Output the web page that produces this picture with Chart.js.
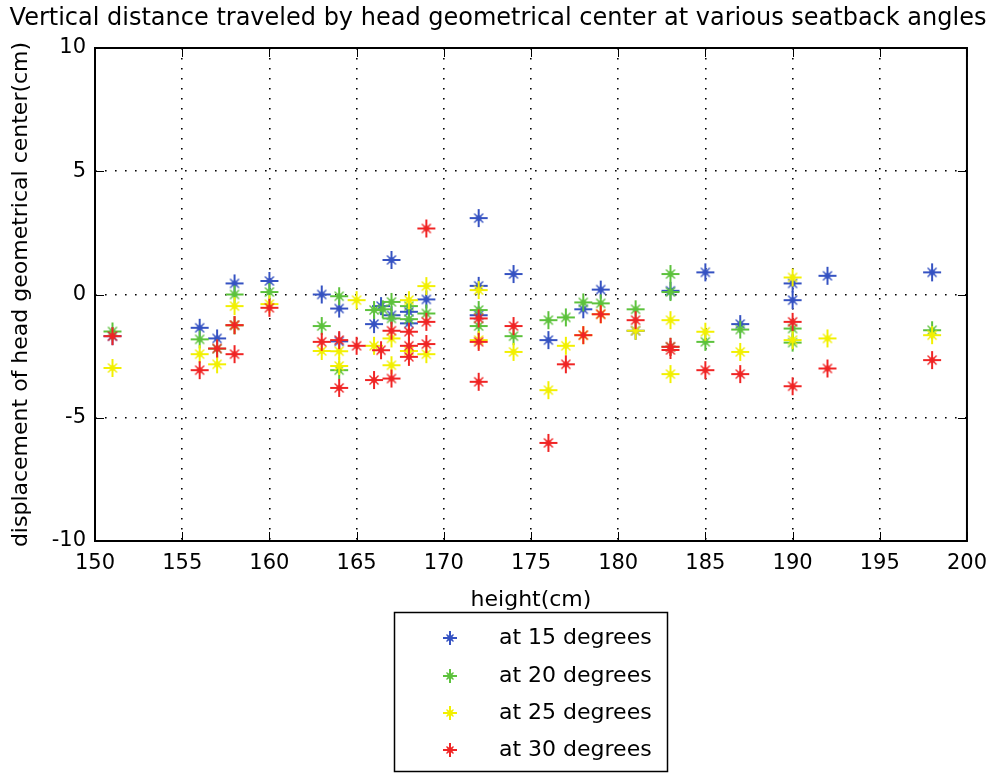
<!DOCTYPE html>
<html>
<head>
<meta charset="utf-8">
<script src="https://cdn.jsdelivr.net/npm/chart.js@4.4.1/dist/chart.umd.min.js"></script>
<style>
  html, body { margin: 0; padding: 0; background: #fff; }
  #wrap { width: 997px; height: 773px; position: relative; }
</style>
</head>
<body>
<div id="wrap"><canvas id="chart" width="997" height="773"></canvas></div>
<script>
// datos
const xTicks = [150, 155, 160, 165, 170, 175, 180, 185, 190, 195, 200];
const yTicks = [-10, -5, 0, 5, 10];

const seriesLabels = ['at 15 degrees', 'at 20 degrees', 'at 25 degrees', 'at 30 degrees'];
const seriesColors = ['#3552c2', '#5cc23c', '#f2f000', '#f02424'];

const heights15 = [151, 156, 157, 158, 158, 160, 163, 164, 164, 166, 166.4, 167, 167, 168, 168, 169, 172, 172, 172, 174, 176, 178, 179, 181, 183, 185, 187, 190, 190, 192, 198];
const disp15    = [-1.69, -1.35, -1.78, 0.45, -1.25, 0.55, 0.0, -0.57, -1.9, -1.2, -0.47, 1.4, -0.84, -0.7, -1.17, -0.2, 3.1, 0.35, -0.84, 0.83, -1.85, -0.6, 0.2, -1.47, 0.15, 0.9, -1.2, 0.45, -0.23, 0.76, 0.9];

const heights20 = [151, 156, 157, 158, 160, 163, 164, 164, 166, 166.5, 167, 167, 168, 168, 169, 172, 172, 174, 176, 177, 178, 179, 181, 183, 183, 183, 185, 187, 190, 190, 198];
const disp20    = [-1.5, -1.82, -2.2, 0.0, 0.1, -1.28, -0.07, -3.07, -0.63, -0.6, -0.3, -0.97, -0.47, -1.0, -0.77, -0.63, -1.28, -1.69, -1.04, -0.93, -0.32, -0.36, -0.6, 0.83, 0.1, -2.12, -1.92, -1.42, -1.38, -1.95, -1.45];

const heights25 = [151, 156, 157, 158, 158, 160, 163, 164, 164, 165, 166, 167, 167, 168, 168, 169, 169, 172, 172, 174, 176, 177, 178, 179, 181, 183, 183, 185, 187, 190, 190, 192, 198];
const disp25    = [-2.98, -2.42, -2.83, -0.47, -1.25, -0.39, -2.29, -2.3, -2.9, -0.23, -2.08, -1.78, -2.87, -0.23, -2.29, 0.34, -2.42, 0.18, -1.85, -2.33, -3.88, -2.08, -1.65, -0.8, -1.47, -1.04, -3.23, -1.51, -2.33, 0.69, -1.85, -1.78, -1.65];

const heights30 = [151, 156, 157, 158, 158, 160, 163, 164, 164, 165, 166, 166.4, 167, 167, 168, 168, 168, 169, 169, 169, 172, 172, 172, 174, 176, 177, 178, 179, 181, 183, 183, 185, 187, 190, 190, 192, 198];
const disp30    = [-1.69, -3.07, -2.19, -1.24, -2.42, -0.54, -1.92, -1.85, -3.79, -2.08, -3.47, -2.26, -1.47, -3.41, -1.51, -2.08, -2.53, 2.68, -1.11, -2.01, -0.97, -1.92, -3.54, -1.28, -6.02, -2.83, -1.65, -0.8, -1.04, -2.12, -2.25, -3.07, -3.23, -1.11, -3.72, -3.0, -2.66];

const allHeights = [heights15, heights20, heights25, heights30];
const allDisp = [disp15, disp20, disp25, disp30];

const FONT = "'DejaVu Sans', sans-serif";

// marcador tipo asterisco de MATLAB
function starMarker(color, r) {
    const s = Math.ceil(r * 2 + 4);
    const c = document.createElement('canvas');
    c.width = s; c.height = s;
    const g = c.getContext('2d');
    const m = s / 2;
    g.strokeStyle = color;
    g.lineWidth = 2;
    g.beginPath();
    g.moveTo(m - r, m); g.lineTo(m + r, m);
    g.moveTo(m, m - r); g.lineTo(m, m + r);
    g.stroke();
    const d = r * 0.5;
    g.lineWidth = 1.4;
    g.beginPath();
    g.moveTo(m - d, m - d); g.lineTo(m + d, m + d);
    g.moveTo(m - d, m + d); g.lineTo(m + d, m - d);
    g.stroke();
    g.fillStyle = color;
    g.fillRect(m - 2.5, m - 2.5, 5, 5);
    return c;
}

const markers = seriesColors.map(col => starMarker(col, 9));
const legendMarkers = seriesColors.map(col => starMarker(col, 7));

// la ultima serie queda encima, como en MATLAB
const datasets = seriesLabels.map((lab, i) => ({
    label: lab,
    data: allHeights[i].map((h, k) => ({ x: h, y: allDisp[i][k] })),
    pointStyle: markers[i],
    backgroundColor: seriesColors[i],
    borderColor: seriesColors[i],
    order: seriesLabels.length - 1 - i,
    showLine: false
}));

// caja, marcas interiores, titulo y leyenda
const matlabFrame = {
    id: 'matlabFrame',
    afterDraw(chart) {
        const { ctx, chartArea: a, scales } = chart;
        ctx.save();
        ctx.strokeStyle = '#000';
        ctx.lineWidth = 2;
        ctx.strokeRect(a.left, a.top, a.right - a.left, a.bottom - a.top);
        ctx.lineWidth = 1;
        ctx.beginPath();
        xTicks.forEach(v => {
            const px = Math.round(scales.x.getPixelForValue(v)) + 0.5;
            ctx.moveTo(px, a.bottom); ctx.lineTo(px, a.bottom - 9);
            ctx.moveTo(px, a.top); ctx.lineTo(px, a.top + 9);
        });
        yTicks.forEach(v => {
            const py = Math.round(scales.y.getPixelForValue(v)) + 0.5;
            ctx.moveTo(a.left, py); ctx.lineTo(a.left + 9, py);
            ctx.moveTo(a.right, py); ctx.lineTo(a.right - 9, py);
        });
        ctx.stroke();

        // titulo
        ctx.fillStyle = '#000';
        ctx.font = '24px ' + FONT;
        ctx.textAlign = 'center';
        ctx.textBaseline = 'middle';
        ctx.fillText('Vertical distance traveled by head geometrical center at various seatback angles', 498, 19, 985);

        // leyenda
        const bx = 394, by = 612, bw = 273, bh = 159;
        ctx.lineWidth = 1.5;
        ctx.strokeRect(bx + 0.5, by + 0.5, bw, bh);
        ctx.font = '22px ' + FONT;
        ctx.textAlign = 'left';
        const rows = [638, 676, 713, 750];
        seriesLabels.forEach((lab, i) => {
            const mk = legendMarkers[i];
            ctx.drawImage(mk, 450 - mk.width / 2, rows[i] - mk.height / 2);
            ctx.fillStyle = '#000';
            ctx.fillText(lab, 499, rows[i]);
        });
        ctx.restore();
    }
};

new Chart(document.getElementById('chart'), {
    type: 'scatter',
    data: { datasets },
    options: {
        responsive: false,
        animation: false,
        layout: { padding: { top: 48, right: 29, bottom: 160, left: 0 } },
        plugins: {
            legend: { display: false },
            tooltip: { enabled: false },
            title: { display: false }
        },
        scales: {
            x: {
                type: 'linear',
                min: 150,
                max: 200,
                afterFit(s) { s.height = 72; },
                afterBuildTicks(s) { s.ticks = xTicks.map(v => ({ value: v })); },
                ticks: { color: '#000', padding: 10, maxRotation: 0, font: { size: 21, family: FONT } },
                grid: {
                    color: '#000',
                    lineWidth: 1.6,
                    drawTicks: false
                },
                border: { display: false, dash: [1.6, 8.4] },
                title: {
                    display: true,
                    text: 'height(cm)',
                    color: '#000',
                    padding: 0,
                    font: { size: 22, family: FONT }
                }
            },
            y: {
                type: 'linear',
                min: -10,
                max: 10,
                afterFit(s) { s.width = 95; },
                afterBuildTicks(s) { s.ticks = yTicks.map(v => ({ value: v })); },
                ticks: { color: '#000', padding: 9, font: { size: 21, family: FONT } },
                grid: {
                    color: '#000',
                    lineWidth: 1.6,
                    drawTicks: false
                },
                border: { display: false, dash: [1.6, 8.4] },
                title: {
                    display: true,
                    text: 'displacement of head geometrical center(cm)',
                    color: '#000',
                    padding: { top: 8, bottom: 0 },
                    font: { size: 22, family: FONT }
                }
            }
        }
    },
    plugins: [matlabFrame]
});
</script>
</body>
</html>
